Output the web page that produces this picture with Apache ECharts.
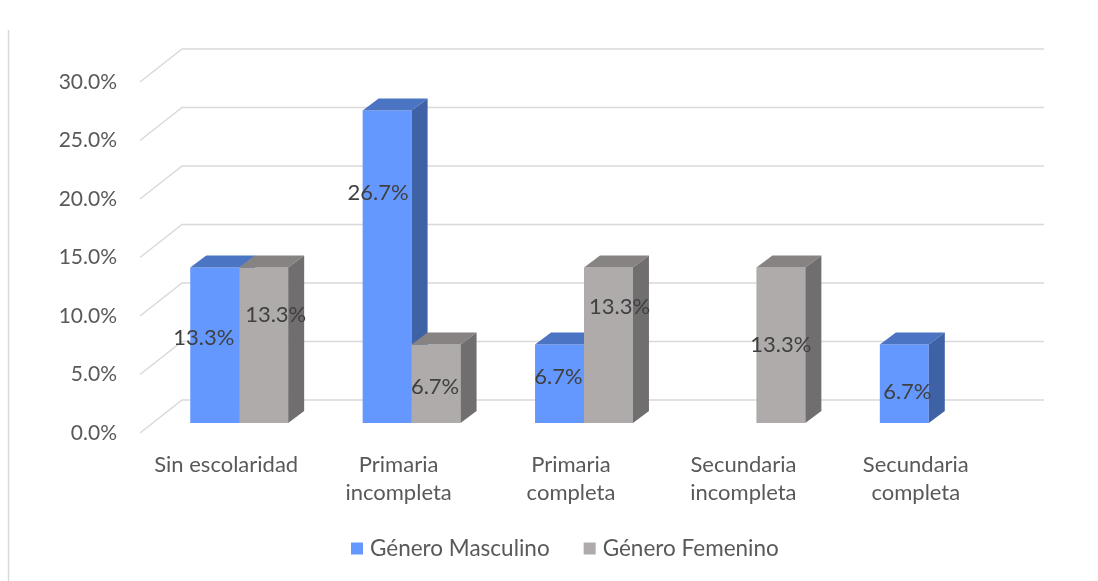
<!DOCTYPE html>
<html>
<head>
<meta charset="utf-8">
<script src="https://cdn.jsdelivr.net/npm/echarts@6/dist/echarts.min.js"></script>
<style>
  html, body { margin: 0; padding: 0; background: #fff; }
  #chart { width: 1098px; height: 581px; }
</style>
</head>
<body>
<div id="chart"></div>
<script>
// data
var categories = ['Sin escolaridad', 'Primaria\nincompleta', 'Primaria\ncompleta', 'Secundaria\nincompleta', 'Secundaria\ncompleta'];
var masculino = [13.3, 26.7, 6.7, 0, 6.7];
var femenino = [13.3, 6.7, 13.3, 13.3, 0];
var yTicks = [0, 5, 10, 15, 20, 25, 30];

// label nudges (px from the middle of the bar face), mimics excel's 3d label placement
var nudgeM = [[-11, -7], [-9, -74], [-1, -7], [0, 0], [3, 8]];
var nudgeF = [[12, -30], [-1, 3], [11, -38], [0, 0], [0, 0]];

var FONT = 'Lato';
var WALL = [42, -33];   // front plane -> back wall
var PLANE = [13, -10];  // front plane -> bar plane
var DEPTH = [16, -12];  // bar thickness
var BAR_RATIO = 0.284;

var colors = {
    m: { front: '#6598FF', top: '#4B74C2', side: '#3F62A6' },
    f: { front: '#AEABAA', top: '#878382', side: '#706E6E' }
};

function barShape(api, idx, val, side) {
    var base = api.coord([idx, 0]);
    var top = api.coord([idx, val]);
    var w = api.size([1, 0])[0] * BAR_RATIO;
    var x0 = base[0] + PLANE[0] + (side === 'm' ? -w : 0);
    var y0 = base[1] + PLANE[1];
    var y1 = top[1] + PLANE[1];
    return { x0: x0, x1: x0 + w, y0: y0, y1: y1, w: w };
}

function renderBars(side) {
    var c = colors[side];
    return function (params, api) {
        var idx = api.value(0), val = api.value(1);
        if (!val) return null;
        var b = barShape(api, idx, val, side);
        var dx = DEPTH[0], dy = DEPTH[1];
        return {
            type: 'group',
            children: [
                { type: 'rect', shape: { x: b.x0, y: b.y1, width: b.w, height: b.y0 - b.y1 }, style: { fill: c.front } },
                { type: 'polygon', shape: { points: [[b.x0, b.y1], [b.x0 + dx, b.y1 + dy], [b.x1 + dx, b.y1 + dy], [b.x1, b.y1]] }, style: { fill: c.top } },
                { type: 'polygon', shape: { points: [[b.x1, b.y1], [b.x1 + dx, b.y1 + dy], [b.x1 + dx, b.y0 + dy], [b.x1, b.y0]] }, style: { fill: c.side } }
            ]
        };
    };
}

function renderLabels(params, api) {
    var idx = api.value(0), val = api.value(1), side = api.value(2) ? 'f' : 'm';
    if (!val) return null;
    var b = barShape(api, idx, val, side);
    var n = (side === 'm' ? nudgeM : nudgeF)[idx];
    return {
        type: 'text',
        style: {
            text: val.toFixed(1) + '%',
            x: (b.x0 + b.x1) / 2 + n[0],
            y: (b.y0 + b.y1) / 2 + n[1],
            textAlign: 'center',
            textVerticalAlign: 'middle',
            fill: '#404040',
            font: '22px ' + FONT
        }
    };
}

function renderWalls(params, api) {
    var cs = params.coordSys;
    var v = api.value(0);
    var y = api.coord([0, v])[1];
    var xl = cs.x, xr = cs.x + cs.width;
    return {
        type: 'polyline',
        shape: { points: [[xl, y], [xl + WALL[0], y + WALL[1]], [xr + WALL[0], y + WALL[1]]] },
        style: { stroke: '#D9D9D9', lineWidth: 1.5, fill: null }
    };
}

var labelData = [];
categories.forEach(function (c, i) {
    labelData.push([i, masculino[i], 0]);
    labelData.push([i, femenino[i], 1]);
});

var chart = echarts.init(document.getElementById('chart'));

var option = {
    animation: false,
    grid: { left: 140, right: 96, top: 82, bottom: 148 },
    legend: {
        bottom: 16,
        left: 346,
        itemWidth: 12,
        itemHeight: 12,
        itemGap: 34,
        icon: 'rect',
        textStyle: { color: '#595959', fontSize: 22.5, fontFamily: FONT, padding: [0, 0, 0, 2] },
        data: [
            { name: 'Género Masculino', itemStyle: { color: colors.m.front } },
            { name: 'Género Femenino', itemStyle: { color: colors.f.front } }
        ]
    },
    xAxis: {
        type: 'category',
        data: categories,
        axisLine: { show: false },
        axisTick: { show: false },
        axisLabel: { color: '#595959', fontSize: 22, fontFamily: FONT, margin: 18, lineHeight: 28, interval: 0 }
    },
    yAxis: {
        type: 'value',
        min: 0,
        max: 30,
        interval: 5,
        splitLine: { show: false },
        axisLine: { show: false },
        axisTick: { show: false },
        axisLabel: {
            color: '#595959', fontSize: 21, fontFamily: FONT, margin: 23,
            formatter: function (v) { return v.toFixed(1) + '%'; }
        }
    },
    graphic: [
        { type: 'line', shape: { x1: 8.5, y1: 30, x2: 8.5, y2: 581 }, style: { stroke: '#D9D9D9', lineWidth: 1.5 } }
    ],
    series: [
        {
            type: 'custom', name: 'walls', renderItem: renderWalls, silent: true, z: 1,
            data: yTicks.map(function (t) { return [t]; }),
            encode: { y: 0 }
        },
        {
            type: 'custom', name: 'Género Masculino', renderItem: renderBars('m'), z: 2,
            itemStyle: { color: colors.m.front },
            data: masculino.map(function (v, i) { return [i, v]; })
        },
        {
            type: 'custom', name: 'Género Femenino', renderItem: renderBars('f'), z: 3,
            itemStyle: { color: colors.f.front },
            data: femenino.map(function (v, i) { return [i, v]; })
        },
        {
            type: 'custom', name: 'labels', renderItem: renderLabels, silent: true, z: 4,
            data: labelData
        }
    ]
};

chart.setOption(option);
</script>
</body>
</html>
